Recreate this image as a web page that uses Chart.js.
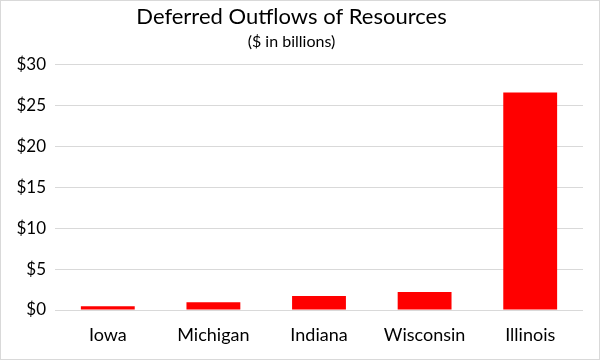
<!DOCTYPE html>
<html>
<head>
<meta charset="utf-8">
<script src="https://cdn.jsdelivr.net/npm/chart.js@4"></script>
<style>
  body { margin: 0; background: #fff; }
  #wrap { width: 600px; height: 360px; }
</style>
</head>
<body>
<div id="wrap"><canvas id="deferred-chart" width="600" height="360"></canvas></div>
<script>
// Deferred outflows by state ($ billions)
const states = ['Iowa', 'Michigan', 'Indiana', 'Wisconsin', 'Illinois'];
const outflows = [0.45, 0.95, 1.7, 2.2, 26.6];
const yTicks = [0, 5, 10, 15, 20, 25, 30];

const fontFamily = 'Lato, "Open Sans", sans-serif';

// thin grey frame round the whole picture
const frame = {
    id: 'frame',
    afterDraw(chart) {
        const ctx = chart.ctx;
        ctx.save();
        ctx.strokeStyle = '#d9d9d9';
        ctx.lineWidth = 1;
        ctx.strokeRect(0.5, 0.5, chart.width - 1, chart.height - 1);
        ctx.restore();
    }
};

const canvas = document.getElementById('deferred-chart');

new Chart(canvas, {
    type: 'bar',
    data: {
        labels: states,
        datasets: [{
            data: outflows,
            backgroundColor: '#ff0000',
            borderWidth: 0,
            categoryPercentage: 1,
            barPercentage: 0.51,
        }]
    },
    options: {
        responsive: false,
        animation: false,
        layout: { padding: { right: 17, bottom: 0 } },
        plugins: {
            legend: { display: false },
            tooltip: { enabled: false },
            title: {
                display: true,
                text: 'Deferred Outflows of Resources',
                color: '#000',
                font: { family: fontFamily, size: 22, weight: 'normal' },
                padding: { top: 4, bottom: 2 },
            },
            subtitle: {
                display: true,
                text: '($ in billions)',
                color: '#000',
                font: { family: fontFamily, size: 16 },
                padding: { top: 0, bottom: 13 },
            },
        },
        scales: {
            x: {
                grid: { display: false },
                border: { display: false },
                ticks: {
                    color: '#000',
                    font: { family: fontFamily, size: 18 },
                    padding: 6,
                },
                afterFit(scale) { scale.height = 50; },
            },
            y: {
                min: 0,
                max: 30,
                afterBuildTicks(scale) {
                    scale.ticks = yTicks.map(v => ({ value: v }));
                },
                grid: { color: '#d9d9d9', lineWidth: 1, drawTicks: false },
                border: { display: false },
                ticks: {
                    color: '#000',
                    font: { family: fontFamily, size: 17 },
                    padding: 9,
                    callback: v => '$' + v,
                },
                afterFit(scale) { scale.width = 55; },
            },
        },
    },
    plugins: [frame],
});
</script>
</body>
</html>
